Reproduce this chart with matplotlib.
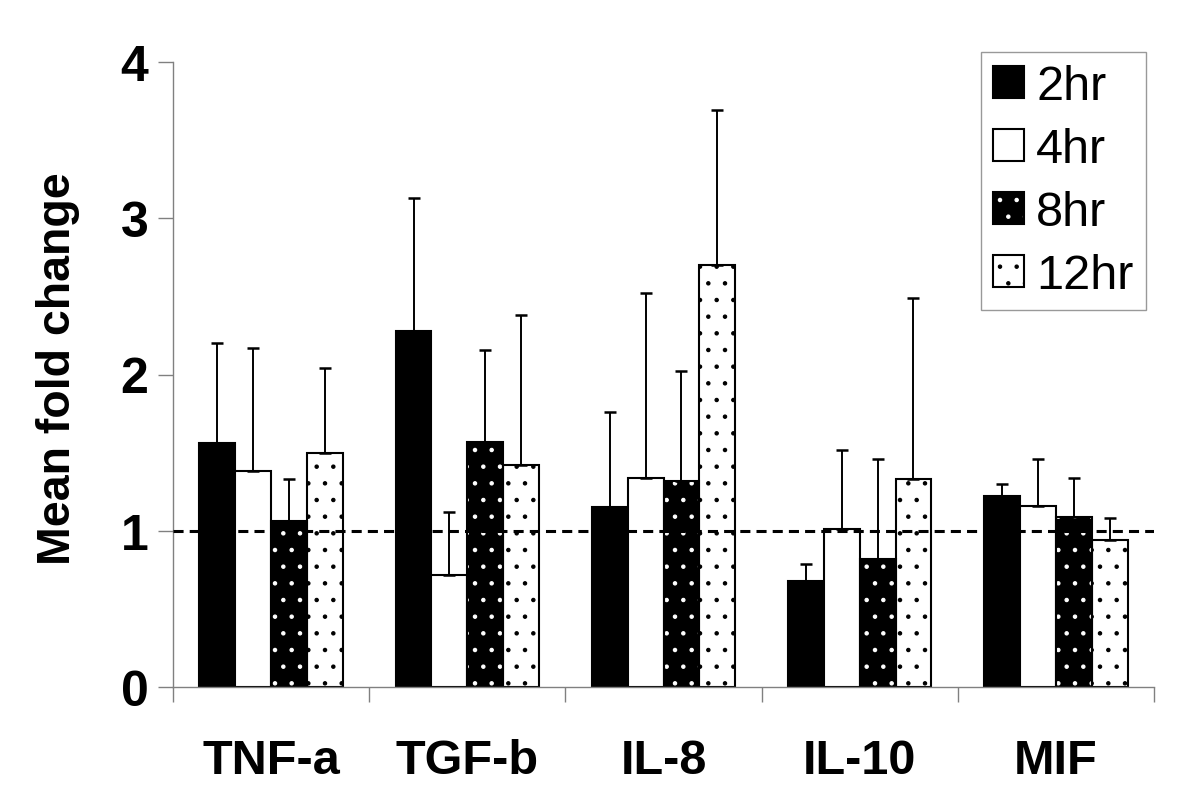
import matplotlib
matplotlib.use("Agg")
import matplotlib.pyplot as plt
import numpy as np
from matplotlib.patches import Patch

plt.rcParams['font.family'] = ['Liberation Sans', 'DejaVu Sans']
plt.rcParams['hatch.linewidth'] = 0.8

categories = ["TNF-a", "TGF-b", "IL-8", "IL-10", "MIF"]
series_names = ["2hr", "4hr", "8hr", "12hr"]

means_2hr = [1.56, 2.28, 1.15, 0.68, 1.22]
means_4hr = [1.38, 0.72, 1.34, 1.01, 1.16]
means_8hr = [1.06, 1.57, 1.32, 0.82, 1.09]
means_12hr = [1.50, 1.42, 2.70, 1.33, 0.94]

err_2hr = [0.64, 0.85, 0.61, 0.11, 0.08]
err_4hr = [0.79, 0.40, 1.18, 0.51, 0.30]
err_8hr = [0.27, 0.59, 0.70, 0.64, 0.25]
err_12hr = [0.54, 0.96, 0.99, 1.16, 0.14]

y_ticks = [0, 1, 2, 3, 4]
reference_level = 1

means = [means_2hr, means_4hr, means_8hr, means_12hr]
errs = [err_2hr, err_4hr, err_8hr, err_12hr]

fig = plt.figure(figsize=(12, 8.12), dpi=100)
ax = fig.add_axes([173/1200, 1-688/812, (1154-173)/1200, (688-63)/812])

x = np.arange(len(categories))
w = 0.1825
offsets = (np.arange(4) - 1.5) * w
EDGE = 1.5
GRAY = '#808080'

handles = []
for i, (m, e, name) in enumerate(zip(means, errs, series_names)):
    xpos = x + offsets[i]
    if name == "2hr":
        ax.bar(xpos, m, w, color='black', edgecolor='black', linewidth=EDGE, zorder=2)
        handles.append(Patch(facecolor='black', edgecolor='black', linewidth=EDGE))
    elif name == "4hr":
        ax.bar(xpos, m, w, color='white', edgecolor='black', linewidth=EDGE, zorder=2)
        handles.append(Patch(facecolor='white', edgecolor='black', linewidth=EDGE))
    elif name == "8hr":
        ax.bar(xpos, m, w, color='black', edgecolor='white', hatch='.', linewidth=0, zorder=2)
        ax.bar(xpos, m, w, color='none', edgecolor='black', linewidth=EDGE, zorder=2.1)
        handles.append((Patch(facecolor='black', edgecolor='white', hatch='.', linewidth=0),
                        Patch(facecolor='none', edgecolor='black', linewidth=EDGE)))
    else:
        ax.bar(xpos, m, w, color='white', edgecolor='black', hatch='.', linewidth=EDGE, zorder=2)
        handles.append(Patch(facecolor='white', edgecolor='black', hatch='.', linewidth=EDGE))
    ax.errorbar(xpos, m, yerr=[np.zeros(len(m)), e], fmt='none', ecolor='black',
                elinewidth=1.4, capsize=4, capthick=1.8, zorder=3)

ax.axhline(reference_level, color='black', lw=2.2, ls=(0, (3.3, 2.0)), zorder=4)

ax.set_xlim(-0.5, len(categories) - 0.5)
ax.set_ylim(0, 4)
ax.set_yticks(y_ticks)
ax.set_yticklabels([str(t) for t in y_ticks], fontsize=36, fontweight='bold')

ax.set_xticks(x)
ax.set_xticklabels(categories, fontsize=35, fontweight='bold')
ax.set_xticks(np.arange(len(categories) + 1) - 0.5, minor=True)
ax.tick_params(axis='x', which='major', length=0, pad=37)
ax.tick_params(axis='x', which='minor', length=10.8, width=1.0, color=GRAY, direction='out')
ax.tick_params(axis='y', which='major', length=10.8, width=1.0, color=GRAY, direction='out', pad=7)

for s in ['top', 'right']:
    ax.spines[s].set_visible(False)
for s in ['left', 'bottom']:
    ax.spines[s].set_color(GRAY)
    ax.spines[s].set_linewidth(1.0)

ax.set_ylabel("Mean fold change", fontsize=33.5, fontweight='bold')
ax.yaxis.set_label_coords((80-173)/(1154-173), (688-369)/(688-63))

leg = ax.legend(handles, series_names, loc='upper left',
                bbox_to_anchor=(980.7/1200, 1-52.7/812), bbox_transform=fig.transFigure,
                borderaxespad=0, fontsize=35, frameon=True, fancybox=False,
                edgecolor=GRAY, handlelength=0.64, handleheight=0.64,
                handletextpad=0.25, labelspacing=0.37, borderpad=0.25)
leg.get_frame().set_linewidth(1.0)

fig.savefig("out.png", dpi=100)
